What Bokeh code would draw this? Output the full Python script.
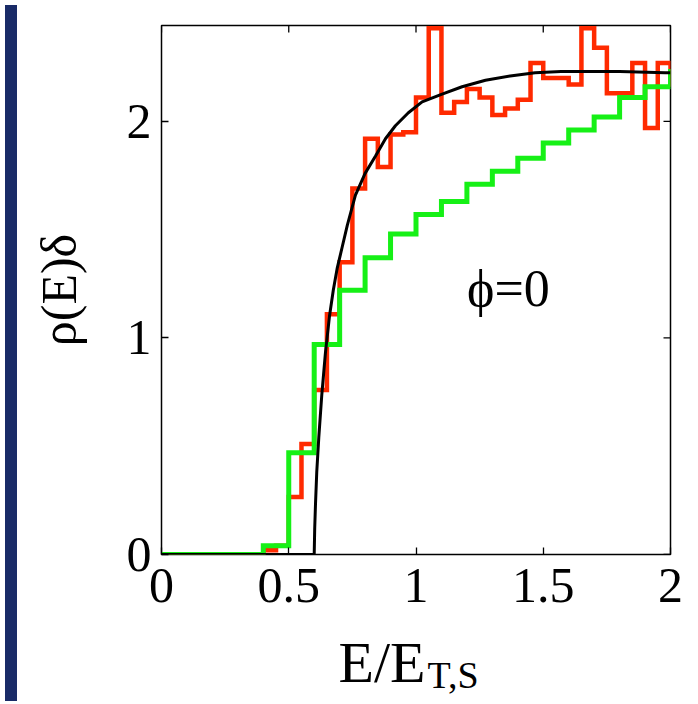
import numpy as np
from bokeh.plotting import figure
from bokeh.models import Range1d, LinearAxis, FixedTicker, Label, Div
from bokeh.layouts import row, column
from bokeh.embed import file_html
from bokeh.resources import INLINE

# ---------------- data ----------------
red_bin_width = 0.05
red_values = [0, 0, 0, 0, 0, 0, 0, 0,
              0.02, 0.04, 0.265, 0.51, 0.76, 1.11, 1.35, 1.69, 1.92, 1.79,
              1.94, 1.95, 2.11, 2.43, 2.04, 2.09, 2.15, 2.11, 2.03, 2.06,
              2.10, 2.27, 2.20, 2.20, 2.17, 2.43, 2.34, 2.13, 2.13, 2.27,
              1.97, 2.27, 2.17]

green_bin_width = 0.1
green_values = [0, 0, 0, 0, 0.04, 0.47, 0.97, 1.22, 1.37, 1.48, 1.57, 1.63,
                1.71, 1.77, 1.83, 1.90, 1.96, 2.02, 2.11, 2.16, 2.23]

curve_E = [0.0, 0.600, 0.602, 0.605, 0.610, 0.618, 0.630, 0.644, 0.660, 0.675,
           0.690, 0.710, 0.730, 0.762, 0.800, 0.841, 0.880, 0.919, 0.970,
           1.024, 1.100, 1.181, 1.273, 1.370, 1.468, 1.570, 1.665, 1.800,
           1.979, 2.000]
curve_rho = [0.0, 0.0, 0.12, 0.23, 0.38, 0.54, 0.74, 0.93, 1.10, 1.22,
             1.32, 1.42, 1.52, 1.66, 1.76, 1.84, 1.92, 1.98, 2.04,
             2.09, 2.125, 2.16, 2.19, 2.21, 2.225, 2.23, 2.23, 2.23,
             2.225, 2.225]

x_range_end = 2.0
y_range_end = 2.443
x_ticks = [0, 0.5, 1, 1.5, 2]
y_ticks = [0, 1, 2]
annotation_text = "\u03d5=0"
annotation_x = 1.363
annotation_y = 1.23
x_title_main = "E/E"
x_title_sub = "T,S"
y_title = "ρ(E)δ"

# ---------------- helpers ----------------
def step_path(values, width):
    n = len(values)
    edges = np.linspace(0, n * width, n + 1)
    xs = np.repeat(edges, 2)[1:-1]
    ys = np.repeat(np.asarray(values, dtype=float), 2)
    return xs, ys

FONT = "Liberation Serif"
NAVY = "#192b67"

p = figure(width=670, height=626, output_backend="svg", toolbar_location=None,
           x_range=Range1d(0, x_range_end), y_range=Range1d(0, y_range_end),
           x_axis_location=None, y_axis_location=None,
           min_border_left=139, min_border_right=22,
           min_border_top=25, min_border_bottom=72)
p.grid.visible = False
p.outline_line_color = "black"
p.outline_line_width = 1.5
p.background_fill_color = "white"
p.border_fill_color = "white"


def make_axis(ticks):
    ax = LinearAxis(ticker=FixedTicker(ticks=ticks))
    ax.axis_line_color = None
    ax.major_tick_in = 7
    ax.major_tick_out = 0
    ax.major_tick_line_width = 1.3
    ax.minor_tick_line_color = None
    ax.major_label_text_font = FONT
    ax.major_label_text_font_size = "50px"
    ax.major_label_text_color = "black"
    return ax


xb = make_axis(x_ticks)
xb.major_label_standoff = 14
p.add_layout(xb, "below")

yl = make_axis(y_ticks)
yl.major_label_standoff = 10
yl.axis_label = y_title
yl.axis_label_text_font = FONT
yl.axis_label_text_font_size = "50px"
yl.axis_label_text_font_style = "normal"
yl.axis_label_text_color = "black"
yl.axis_label_standoff = 37
p.add_layout(yl, "left")

# inward ticks on the top and right edges of the frame
p.ray(x=x_ticks, y=y_range_end, length=7, length_units="screen",
      angle=-np.pi / 2, line_color="black", line_width=1.3)
p.ray(x=x_range_end, y=y_ticks, length=7, length_units="screen",
      angle=np.pi, line_color="black", line_width=1.3)

rx, ry = step_path(red_values, red_bin_width)
gx, gy = step_path(green_values, green_bin_width)
p.line(rx, ry, line_color="#ff2a00", line_width=4.5, line_join="miter")
p.line(gx, gy, line_color="#16f016", line_width=5, line_join="miter")
p.line(curve_E, curve_rho, line_color="black", line_width=3)

p.add_layout(Label(x=annotation_x, y=annotation_y, text=annotation_text,
                   text_font=FONT, text_font_size="52px", text_align="center",
                   text_color="black", text_baseline="middle"))

# x-axis title, with its subscript, in a strip below the plot
# (its frame is aligned with the main plot's frame by the column layout)
b = figure(width=670, height=70, output_backend="svg", toolbar_location=None,
           x_range=Range1d(0, 1), y_range=Range1d(0, 1),
           x_axis_location=None, y_axis_location=None,
           min_border_left=0, min_border_right=0,
           min_border_top=0, min_border_bottom=0)
b.grid.visible = False
b.outline_line_color = None
b.border_fill_color = "white"
b.background_fill_color = "white"
b.add_layout(Label(x=264, y=34, x_units="screen", y_units="screen",
                   text=x_title_main, text_font=FONT, text_font_size="58px",
                   text_color="black", text_align="right",
                   text_baseline="middle"))
b.add_layout(Label(x=266, y=22, x_units="screen", y_units="screen",
                   text=x_title_sub, text_font=FONT, text_font_size="38px",
                   text_color="black", text_align="left",
                   text_baseline="middle"))

left_strip = Div(width=12, height=696, styles={"background-color": NAVY})
layout = column(row(left_strip, column(p, b, spacing=0), spacing=0),
                spacing=0)

open("out.html", "w").write(file_html(layout, INLINE))
